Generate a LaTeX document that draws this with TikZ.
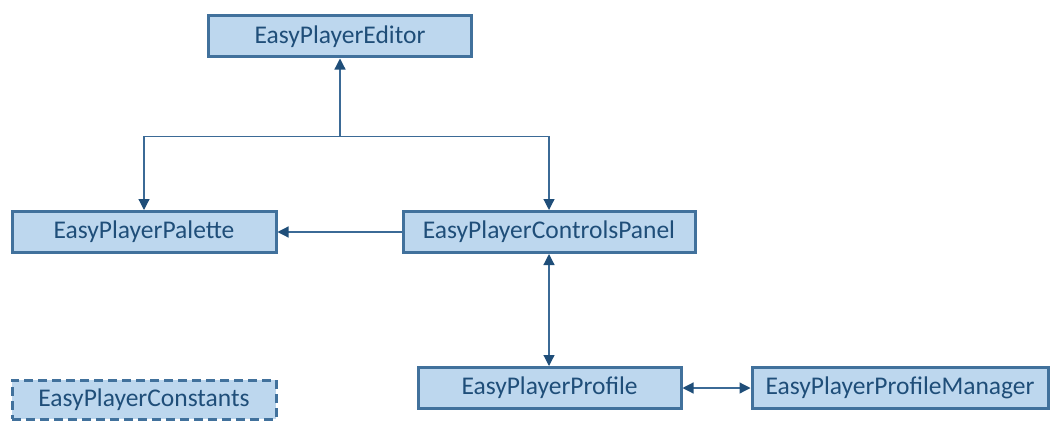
\documentclass[tikz,border=0pt]{standalone}
\usepackage{fontspec}
\setmainfont{Carlito}
\usetikzlibrary{arrows.meta,calc}
\definecolor{boxfill}{HTML}{BDD7EE}
\definecolor{boxline}{HTML}{41719C}
\definecolor{txt}{HTML}{1F4E79}
\definecolor{wire}{HTML}{3B6A96}
\definecolor{tip}{HTML}{1F4E79}
\tikzset{
  cls/.style={draw=boxline, line width=3pt, fill=boxfill, text=txt,
    minimum height=41pt, inner sep=0pt, font=\fontsize{25.5}{29}\selectfont},
  abstractcls/.style={cls, dashed, dash pattern=on 9pt off 5pt},
  wireline/.style={draw=wire, line width=1.2pt},
  head/.style={-{Triangle[length=11pt,width=11pt,fill=tip,color=tip]}},
  bihead/.style={{Triangle[length=11pt,width=11pt,fill=tip,color=tip]}-{Triangle[length=11pt,width=11pt,fill=tip,color=tip]}}
}
\begin{document}
\begin{tikzpicture}[x=1pt,y=-1pt]
\useasboundingbox (0,0) rectangle (1051,420);
% classes
\node[cls, minimum width=263pt] (editor) at (340,36.5) {EasyPlayerEditor};
\node[cls, minimum width=264pt] (palette) at (144,232) {EasyPlayerPalette};
\node[cls, minimum width=292pt] (controls) at (549,232) {EasyPlayerControlsPanel};
\node[cls, minimum width=263pt] (profile) at (549.5,388) {EasyPlayerProfile};
\node[cls, minimum width=296pt] (manager) at (900,388) {EasyPlayerProfileManager};
\node[abstractcls, minimum width=264pt, minimum height=39pt] (constants) at (144,399.5) {EasyPlayerConstants};
% branching connector below the editor
\coordinate (split) at ($(editor.south)+(0,78)$);
\coordinate (leftcorner) at (split -| palette.north);
\coordinate (rightcorner) at (split -| controls.north);
\draw[wireline, head] (split) -- (editor.south);
\draw[wireline, head] (split) -- (leftcorner) -- (palette.north);
\draw[wireline, head] (split) -- (rightcorner) -- (controls.north);
% remaining associations
\draw[wireline, head] (controls.west) -- (palette.east);
\draw[wireline, bihead] (controls.south) -- (controls.south |- profile.north);
\draw[wireline, bihead] (profile.east) -- (manager.west);
\end{tikzpicture}
\end{document}
